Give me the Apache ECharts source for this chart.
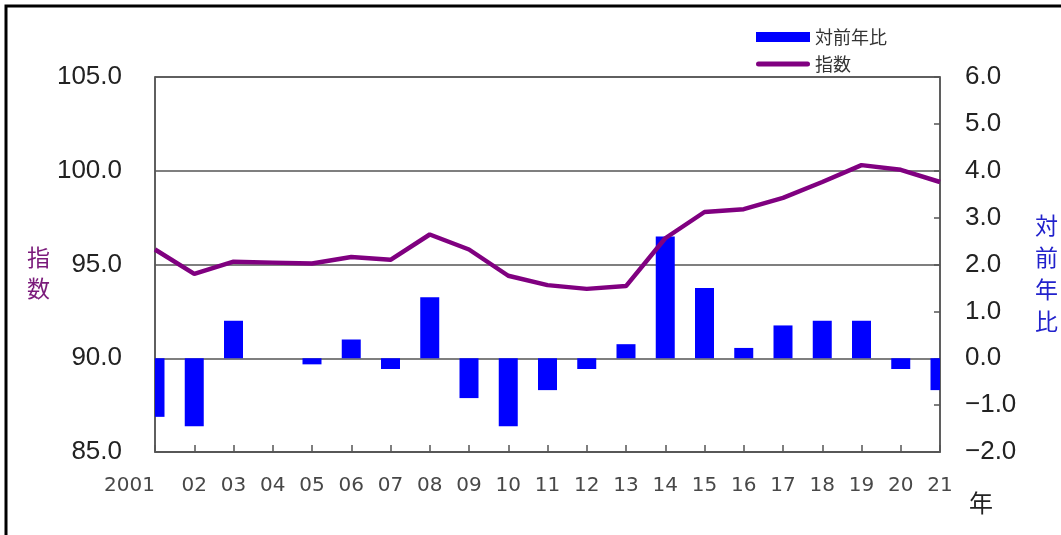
<!DOCTYPE html>
<html>
<head>
<meta charset="utf-8">
<script src="https://cdn.jsdelivr.net/npm/echarts@6/dist/echarts.min.js"></script>
<style>
html,body{margin:0;padding:0;background:#fff;}
#chart{width:1061px;height:535px;}
</style>
</head>
<body>
<div id="chart"></div>
<script>
var years = ['2001','02','03','04','05','06','07','08','09','10','11','12','13','14','15','16','17','18','19','20','21'];
var indexValues = [95.8, 94.5, 95.15, 95.1, 95.05, 95.4, 95.25, 96.6, 95.8, 94.4, 93.9, 93.7, 93.85, 96.4, 97.8, 97.95, 98.55, 99.4, 100.3, 100.05, 99.4];
var yoyValues = [-1.25, -1.45, 0.8, 0, -0.13, 0.4, -0.23, 1.3, -0.85, -1.45, -0.68, -0.23, 0.3, 2.6, 1.5, 0.22, 0.7, 0.8, 0.8, -0.23, -0.68];
var leftTicks = {min: 85, max: 105, interval: 5};
var rightTicks = {min: -2, max: 6, interval: 1};
var seriesNames = ['対前年比', '指数'];

var numFont = 'Liberation Sans, Arial, sans-serif';
var cjkFont = 'Noto Sans CJK JP, sans-serif';
var axisGray = '#555555';
var BAR_W = 19;

var barData = yoyValues.map(function (v, i) { return [i, v]; });

var chart = echarts.init(document.getElementById('chart'), null, {renderer: 'canvas'});
chart.setOption({
  backgroundColor: '#ffffff',
  animation: false,
  graphic: [{
    type: 'rect',
    shape: {x: 6, y: 6, width: 1100, height: 600},
    style: {fill: 'none', stroke: '#000', lineWidth: 3},
    silent: true, z: 100
  }],
  legend: {
    orient: 'vertical',
    left: 751,
    top: 23,
    itemWidth: 54,
    itemHeight: 10,
    itemGap: 9,
    data: [
      {name: seriesNames[0], icon: 'rect', itemStyle: {color: '#0000ff'}},
      {name: seriesNames[1], icon: 'path://M2.5,0H51.5A2.5,2.5,0,0,1,51.5,5H2.5A2.5,2.5,0,0,1,2.5,0Z', itemStyle: {color: '#800080'}}
    ],
    textStyle: {fontFamily: cjkFont, fontSize: 18, color: '#333'}
  },
  grid: {
    left: 155, right: 118, top: 77, bottom: 83,
    show: true, borderColor: axisGray, borderWidth: 1.5, backgroundColor: 'transparent'
  },
  xAxis: {
    type: 'category',
    data: years,
    boundaryGap: false,
    name: '{s| }\n{n|年}',
    nameLocation: 'end',
    nameGap: 29,
    nameMoveOverlap: false,
    nameTextStyle: {
      fontFamily: cjkFont, fontSize: 24, color: '#222',
      rich: {
        s: {fontSize: 1, lineHeight: 102},
        n: {fontFamily: cjkFont, fontSize: 24, lineHeight: 26, color: '#222'}
      }
    },
    axisLine: {show: true, onZero: false, lineStyle: {color: axisGray, width: 1.5}},
    axisTick: {show: true, inside: true, length: 7, interval: 0, lineStyle: {color: axisGray, width: 1.5}},
    axisLabel: {
      interval: 0,
      margin: 24,
      fontFamily: 'DejaVu Sans, sans-serif',
      fontSize: 20,
      color: '#484848',
      formatter: function (v, i) { return i === 0 ? '{f|' + v + '}' : v; },
      rich: {f: {fontFamily: 'DejaVu Sans, sans-serif', fontSize: 20, color: '#484848', padding: [0, 51, 0, 0]}}
    },
    splitLine: {show: false}
  },
  yAxis: [{
    type: 'value',
    position: 'left',
    min: leftTicks.min, max: leftTicks.max, interval: leftTicks.interval,
    name: '{s| }\n{n|指}\n{n|数}',
    nameLocation: 'middle',
    nameRotate: 0,
    nameGap: 105,
    nameTextStyle: {
      fontFamily: cjkFont, fontSize: 23, color: '#7a1a7a',
      rich: {
        s: {fontSize: 1, lineHeight: 16},
        n: {fontFamily: cjkFont, fontSize: 23, lineHeight: 31, color: '#7a1a7a'}
      }
    },
    axisLine: {show: true, lineStyle: {color: axisGray, width: 1.5}},
    axisTick: {show: false},
    axisLabel: {margin: 33, fontFamily: numFont, fontSize: 26, color: '#222',
      formatter: function (v) { return v.toFixed(1); }},
    splitLine: {show: true, lineStyle: {color: axisGray, width: 1.5}}
  }, {
    type: 'value',
    position: 'right',
    min: rightTicks.min, max: rightTicks.max, interval: rightTicks.interval,
    name: '{s| }\n{n|対}\n{n|前}\n{n|年}\n{n|比}',
    nameLocation: 'middle',
    nameRotate: 0,
    nameGap: 95,
    nameTextStyle: {
      fontFamily: cjkFont, fontSize: 23, color: '#2222cc',
      rich: {
        s: {fontSize: 1, lineHeight: 18},
        n: {fontFamily: cjkFont, fontSize: 23, lineHeight: 32, color: '#2222cc'}
      }
    },
    axisLine: {show: true, lineStyle: {color: axisGray, width: 1.5}},
    axisTick: {show: true, inside: true, length: 6, lineStyle: {color: axisGray, width: 1.5}},
    axisLabel: {margin: 25, fontFamily: numFont, fontSize: 26, color: '#222',
      formatter: function (v) { return (v < 0 ? '\u2212' + Math.abs(v).toFixed(1) : v.toFixed(1)); }},
    splitLine: {show: false}
  }],
  series: [{
    name: seriesNames[0],
    type: 'custom',
    yAxisIndex: 1,
    data: barData,
    encode: {x: 0, y: 1},
    itemStyle: {color: '#0000ff'},
    renderItem: function (params, api) {
      var idx = api.value(0);
      var val = api.value(1);
      var p0 = api.coord([idx, 0]);
      var p1 = api.coord([idx, val]);
      var rect = {
        x: p0[0] - BAR_W / 2,
        y: Math.min(p0[1], p1[1]),
        width: BAR_W,
        height: Math.abs(p1[1] - p0[1])
      };
      var cs = params.coordSys;
      var clipped = echarts.graphic.clipRectByRect(rect, {x: cs.x, y: cs.y, width: cs.width, height: cs.height});
      if (!clipped) return null;
      return {type: 'rect', shape: clipped, style: api.style({fill: '#0000ff'})};
    }
  }, {
    name: seriesNames[1],
    type: 'line',
    yAxisIndex: 0,
    data: indexValues,
    symbol: 'none',
    z: 3,
    lineStyle: {color: '#800080', width: 4.5},
    itemStyle: {color: '#800080'}
  }]
});
</script>
</body>
</html>
